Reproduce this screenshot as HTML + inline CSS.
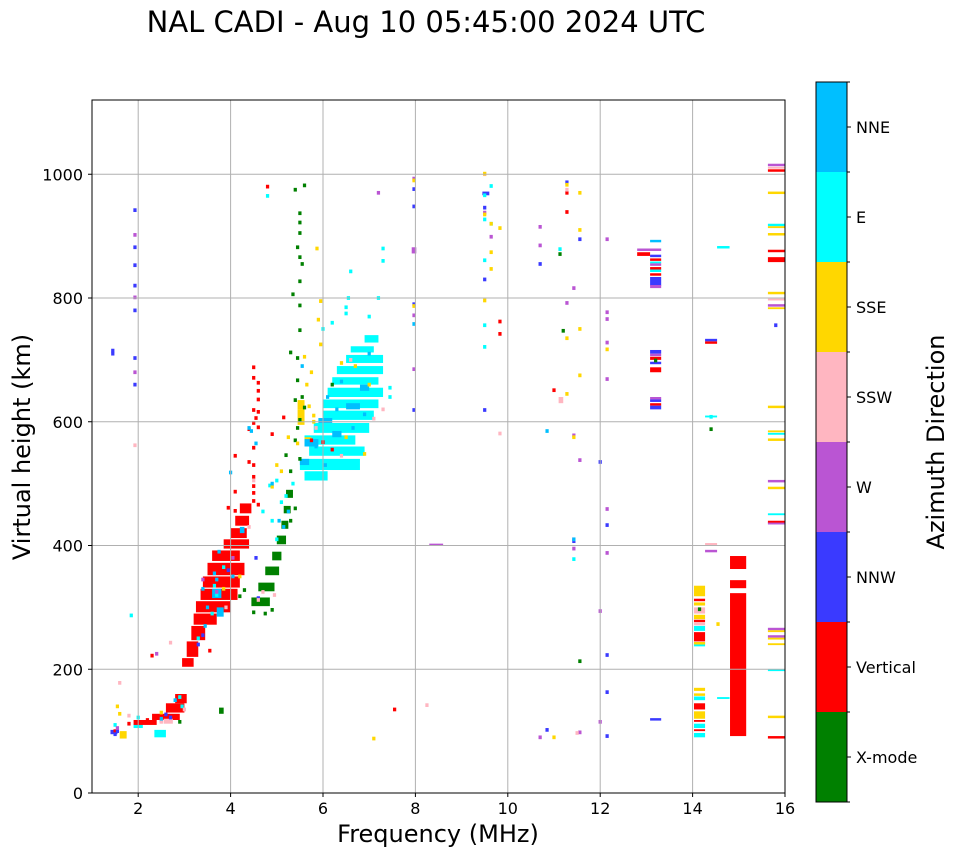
<!DOCTYPE html>
<html><head><meta charset="utf-8"><style>
body{margin:0;background:#fff;}
svg text{font-family:"DejaVu Sans","Liberation Sans",sans-serif;}
</style></head><body>
<svg id="chart" width="958" height="857" xmlns="http://www.w3.org/2000/svg">
<rect x="0" y="0" width="958" height="857" fill="#fff"/>
<text x="426" y="32" font-size="29" text-anchor="middle">NAL CADI - Aug 10 05:45:00 2024 UTC</text>
<g id="marks"></g>
<g id="grid"></g>
<rect x="92" y="100" width="693" height="693" fill="none" stroke="#000" stroke-width="1"/>
<g id="xticks"></g>
<g id="yticks"></g>
<text x="438" y="842" font-size="24" text-anchor="middle">Frequency (MHz)</text>
<text transform="translate(30,447) rotate(-90)" font-size="24" text-anchor="middle">Virtual height (km)</text>
<g id="cbar"></g>
<text transform="translate(944,442) rotate(-90)" font-size="24" text-anchor="middle">Azimuth Direction</text>
</svg>
<script>
const categories = ["X-mode","Vertical","NNW","W","SSW","SSE","E","NNE"];
const catColors = ["#008000","#ff0000","#3a3aff","#ba55d3","#ffb6c1","#ffd700","#00ffff","#00bfff"];
const xTicks = [2,4,6,8,10,12,14,16];
const yTicks = [0,200,400,600,800,1000];

// blocks: [f0,f1,h0,h1]; points: [f,h]
const eBlocks = [[5.6,6.1,505,520],[5.5,6.8,522,540],[5.7,6.9,545,560],[5.6,6.7,563,578],[5.8,7.0,582,598],[6.0,7.1,603,618],[6.0,7.2,622,636],[6.1,7.3,640,655],[6.2,7.2,660,672],[6.3,7.3,677,690],[6.5,7.3,695,708],[6.6,7.1,712,722],[6.9,7.2,728,740],[14.03,14.27,262,270],[14.03,14.27,237,244],[14.03,14.27,150,156],[14.03,14.27,105,112],[14.03,14.27,90,97],[14.53,14.8,152,155],[14.53,14.8,880,884],[14.27,14.53,607,610],[13.08,13.32,842,846],[13.08,13.32,856,859],[15.63,16,916,920],[15.63,16,579,582],[15.63,16,449,452],[15.63,16,197,200],[2.35,2.6,90,102],[1.9,2.1,105,112]];
const ePoints = [[6.5,775],[6.5,785],[6.6,843],[7.3,860],[7.3,880],[6.0,750],[6.2,760],[7.0,770],[4.8,965],[9.64,981],[9.5,966],[9.5,927],[9.64,920],[9.5,861],[9.5,756],[9.5,721],[11.13,879],[6.55,800],[7.2,800],[7.45,640],[7.45,655],[5.1,470],[5.2,480],[5.35,500],[5.0,505],[4.85,497],[4.7,455],[4.9,440],[5.0,410],[3.7,320],[3.65,335],[3.85,365],[3.3,250],[3.6,290],[1.85,287],[2.9,155],[2.95,140],[1.5,110],[2.0,122],[11.43,378],[14.4,608]];
const redBlocks = [[2.95,3.2,204,218],[3.05,3.3,220,245],[3.15,3.45,247,270],[3.2,3.7,272,290],[3.25,4.0,292,310],[3.35,4.15,312,330],[3.4,4.2,332,350],[3.5,4.3,352,372],[3.6,4.2,375,392],[3.85,4.4,395,410],[4.0,4.35,412,428],[4.1,4.4,432,448],[4.2,4.45,452,468],[2.3,2.9,118,128],[2.6,3.0,130,145],[1.9,2.4,110,118],[2.8,3.05,145,160],[12.8,13.08,868,874],[13.08,13.32,860,864],[13.08,13.32,846,850],[13.08,13.32,836,840],[13.08,13.32,680,688],[13.08,13.32,700,705],[13.08,13.32,626,630],[14.27,14.53,726,730],[14.03,14.27,310,314],[14.03,14.27,276,280],[14.03,14.27,245,260],[14.03,14.27,135,145],[14.03,14.27,115,118],[14.03,14.27,100,103],[14.81,15.16,362,383],[14.81,15.16,331,344],[14.81,15.16,92,323],[15.63,16,1004,1008],[15.63,16,874,878],[15.63,16,858,866],[15.63,16,436,440],[15.63,16,88,92]];
const redPoints = [[4.5,688],[4.5,671],[4.6,663],[4.6,650],[4.6,636],[4.5,619],[4.6,616],[4.55,606],[5.15,607],[4.5,598],[4.6,591],[4.4,588],[4.9,580],[4.5,558],[4.1,545],[4.4,535],[4.5,530],[4.5,511],[4.5,496],[4.1,487],[4.5,485],[4.5,472],[4.6,466],[3.95,461],[4.1,456],[4.8,980],[2.3,222],[2.2,118],[1.8,112],[1.5,100],[7.55,135],[9.83,762],[9.83,742],[11.28,970],[11.28,939],[11.0,651],[6.2,555],[6.0,567],[5.75,570],[3.55,230]];
const greenBlocks = [[4.45,4.85,302,316],[4.6,4.95,326,340],[4.75,5.05,352,366],[4.9,5.1,376,390],[5.0,5.2,402,416],[5.1,5.25,427,440],[5.15,5.3,452,464],[5.2,5.35,477,490],[3.75,3.85,128,138]];
const greenPoints = [[5.6,982],[5.4,975],[5.5,937],[5.5,922],[5.5,905],[5.45,882],[5.5,866],[5.55,855],[5.5,827],[5.35,806],[5.5,788],[5.5,748],[5.3,712],[5.45,703],[5.45,667],[5.4,635],[5.5,603],[5.4,570],[5.2,546],[5.45,590],[5.3,520],[5.5,540],[2.9,115],[11.56,213],[11.13,871],[11.2,747],[14.4,588],[14.15,297],[13.2,699],[5.55,640],[5.6,623],[5.3,440],[5.4,460],[4.2,318],[4.3,328],[4.5,292],[4.75,290],[4.9,296],[6.2,660]];
const nnwBlocks = [[9.45,9.6,966,972],[13.08,13.32,820,834],[13.08,13.32,866,870],[13.08,13.32,710,716],[13.08,13.32,693,697],[13.08,13.32,620,626],[13.08,13.32,632,636],[13.08,13.32,117,121],[14.27,14.53,730,734],[1.4,1.55,95,102]];
const nnwPoints = [[1.93,942],[1.93,882],[1.93,853],[1.93,820],[1.93,780],[1.93,703],[1.93,660],[1.45,715],[1.45,710],[7.97,976],[7.97,948],[9.5,946],[9.5,830],[7.97,790],[7.97,619],[9.5,619],[11.28,987],[11.56,895],[10.7,855],[12.0,535],[12.15,433],[11.43,407],[12.15,223],[12.15,163],[10.85,102],[12.15,92],[15.8,756],[1.5,95],[1.55,100],[3.4,255],[3.3,240],[4.6,315],[4.55,380],[3.95,360],[2.6,127],[2.7,122]];
const wBlocks = [[7.92,8.02,872,882],[8.3,8.6,400,403],[12.8,13.32,876,880],[13.08,13.32,816,821],[13.08,13.32,852,856],[13.08,13.32,706,710],[13.08,13.32,636,640],[14.27,14.53,389,393],[15.63,16,1013,1017],[15.63,16,786,790],[15.63,16,502,506],[15.63,16,434,437],[15.63,16,263,267],[15.63,16,251,255]];
const wPoints = [[1.93,902],[1.93,801],[1.93,680],[7.97,993],[7.97,772],[7.97,685],[9.5,938],[9.64,899],[10.7,915],[10.7,885],[12.15,895],[11.43,816],[11.28,792],[12.15,777],[12.15,766],[12.15,728],[12.15,669],[11.43,578],[11.56,538],[12.15,459],[11.43,410],[11.43,395],[12.15,388],[12.0,294],[12.0,115],[11.56,98],[10.7,90],[7.2,970],[2.4,225],[1.55,105],[2.5,117],[3.4,345],[3.7,325],[4.05,380]];
const sswBlocks = [[14.27,14.53,400,404],[14.03,14.27,290,300],[14.03,14.27,271,275],[15.63,16,1009,1012],[15.63,16,796,799],[11.1,11.2,630,640],[2.55,2.75,112,120]];
const sswPoints = [[1.93,562],[9.5,1000],[11.28,975],[9.83,581],[8.25,142],[1.6,178],[2.7,243],[2.5,115],[3.0,135],[4.6,312],[4.7,325],[4.95,320],[5.85,590],[6.6,700],[7.1,605],[7.3,620],[6.4,545],[4.5,505],[4.4,430],[3.9,300],[1.8,125],[11.5,97]];
const sseBlocks = [[5.45,5.6,620,635],[5.45,5.6,595,620],[5.6,5.75,560,575],[14.03,14.27,318,335],[14.03,14.27,303,308],[14.03,14.27,281,288],[14.03,14.27,240,244],[14.03,14.27,165,170],[14.03,14.27,157,161],[14.03,14.27,120,132],[15.63,16,968,972],[15.63,16,913,916],[15.63,16,901,905],[15.63,16,806,810],[15.63,16,782,785],[15.63,16,622,626],[15.63,16,569,573],[15.63,16,583,586],[15.63,16,491,495],[15.63,16,260,263],[15.63,16,248,251],[15.63,16,239,242],[15.63,16,121,125],[1.6,1.75,88,100]];
const ssePoints = [[7.97,990],[9.5,1001],[9.5,935],[9.64,920],[9.83,913],[9.64,874],[9.64,847],[9.5,796],[11.28,983],[11.56,970],[11.56,910],[11.56,750],[11.28,735],[12.15,717],[11.56,675],[11.28,645],[11.43,575],[11.0,90],[7.97,787],[5.87,880],[5.95,795],[5.9,765],[5.95,725],[5.6,705],[5.75,680],[5.65,660],[6.4,695],[6.7,690],[7.0,660],[5.7,625],[5.8,610],[5.8,600],[5.25,575],[5.45,565],[5.1,520],[5.0,530],[4.9,495],[1.55,140],[1.6,128],[7.1,88],[2.5,130],[3.85,330],[4.2,350],[6.5,575],[6.9,548],[14.55,273]];
const nneBlocks = [[5.6,5.9,560,572],[5.9,6.2,598,606],[6.5,6.8,620,630],[5.5,5.7,530,540],[6.2,6.4,575,585],[6.8,7.0,650,660],[3.6,3.8,315,330],[3.7,3.85,285,300],[4.2,4.3,420,430],[13.08,13.32,890,894]];
const nnePoints = [[4.4,590],[4.45,585],[4.9,500],[7.97,758],[10.85,585],[4.0,518],[4.55,565],[3.65,355],[3.7,345],[3.4,330],[3.5,300],[4.05,350],[3.75,390],[3.45,270],[2.5,120],[2.8,150],[5.25,455],[5.05,440],[5.15,430],[5.55,690],[6.1,640],[6.3,620],[6.9,612],[6.65,590],[5.85,560],[6.05,530],[7.0,710],[6.4,665],[11.43,410]];

const X0=92, X1=785, Y0=793, Y1=100, FMIN=1, FMAX=16, HMIN=0, HMAX=1120;
function xs(f){return X0+(f-FMIN)/(FMAX-FMIN)*(X1-X0);}
function ys(h){return Y0-(h-HMIN)/(HMAX-HMIN)*(Y0-Y1);}
const NS="http://www.w3.org/2000/svg";
const marks=document.getElementById('marks');
function drawBlocks(arr,ci){
  arr.forEach(b=>{
    const r=document.createElementNS(NS,'rect');
    
    
    const x0=xs(b[0]),x1=xs(b[1]),y0=ys(b[3]),y1=ys(b[2]);
    r.setAttribute('x',x0);r.setAttribute('y',y0);
    r.setAttribute('width',Math.max(1,x1-x0));r.setAttribute('height',Math.max(1.5,y1-y0));
    r.setAttribute('fill',catColors[ci]);
    marks.appendChild(r);
  });
}
function drawPoints(arr,ci){
  arr.forEach(p=>{
    const r=document.createElementNS(NS,'rect');
    
    
    const x0=xs(p[0]-0.035),x1=xs(p[0]+0.035),y0=ys(p[1]+3),y1=ys(p[1]-3);
    r.setAttribute('x',x0);r.setAttribute('y',y0);
    r.setAttribute('width',x1-x0);r.setAttribute('height',y1-y0);
    r.setAttribute('fill',catColors[ci]);
    marks.appendChild(r);
  });
}
drawBlocks(eBlocks,6);
drawBlocks(redBlocks,1);
drawBlocks(greenBlocks,0);
drawBlocks(nnwBlocks,2);
drawBlocks(wBlocks,3);
drawBlocks(sswBlocks,4);
drawBlocks(sseBlocks,5);
drawBlocks(nneBlocks,7);
drawPoints(ePoints,6);
drawPoints(redPoints,1);
drawPoints(greenPoints,0);
drawPoints(nnwPoints,2);
drawPoints(wPoints,3);
drawPoints(sswPoints,4);
drawPoints(ssePoints,5);
drawPoints(nnePoints,7);

const grid=document.getElementById('grid'), xt=document.getElementById('xticks'), yt=document.getElementById('yticks');
function line(g,x1,y1,x2,y2,c,name){
  const l=document.createElementNS(NS,'line');
  
  
  l.setAttribute('x1',x1);l.setAttribute('y1',y1);l.setAttribute('x2',x2);l.setAttribute('y2',y2);
  l.setAttribute('stroke',c);l.setAttribute('stroke-width',1);
  g.appendChild(l);
}
function txt(g,x,y,s,anchor,name){
  const t=document.createElementNS(NS,'text');
  
  
  t.setAttribute('x',x);t.setAttribute('y',y);t.setAttribute('font-size',16);
  t.setAttribute('text-anchor',anchor);t.textContent=s;g.appendChild(t);
}
xTicks.forEach(v=>{
  const x=xs(v);
  line(grid,x,Y1,x,Y0,'#b0b0b0','x-grid-line');
  line(xt,x,Y0,x,Y0+4,'#000','x-tick');
  txt(xt,x,814,String(v),'middle','x-tick-label');
});
yTicks.forEach(v=>{
  const y=ys(v);
  line(grid,X0,y,X1,y,'#b0b0b0','y-grid-line');
  line(yt,X0-4,y,X0,y,'#000','y-tick');
  txt(yt,X0-9,y+6,String(v),'end','y-tick-label');
});
const cb=document.getElementById('cbar');
const CB_X=816, CB_W=31, CB_TOP=82, SEG=90;
categories.forEach((c,i)=>{
  const y=CB_TOP+(categories.length-1-i)*SEG;
  const r=document.createElementNS(NS,'rect');
  
  
  r.setAttribute('x',CB_X);r.setAttribute('y',y);r.setAttribute('width',CB_W);r.setAttribute('height',SEG);
  r.setAttribute('fill',catColors[i]);cb.appendChild(r);
  line(cb,CB_X+CB_W,y+SEG/2,CB_X+CB_W+4,y+SEG/2,'#000','colorbar-tick');
  txt(cb,856,y+SEG/2+6,c,'start','colorbar-label');
});
for(let i=0;i<=categories.length;i++){line(cb,CB_X+CB_W,CB_TOP+i*SEG,CB_X+CB_W+3,CB_TOP+i*SEG,'#000','colorbar-boundary-tick');}
const fr=document.createElementNS(NS,'rect');


fr.setAttribute('x',CB_X);fr.setAttribute('y',CB_TOP);fr.setAttribute('width',CB_W);fr.setAttribute('height',SEG*categories.length);
fr.setAttribute('fill','none');fr.setAttribute('stroke','#000');cb.appendChild(fr);
</script>
</body></html>
